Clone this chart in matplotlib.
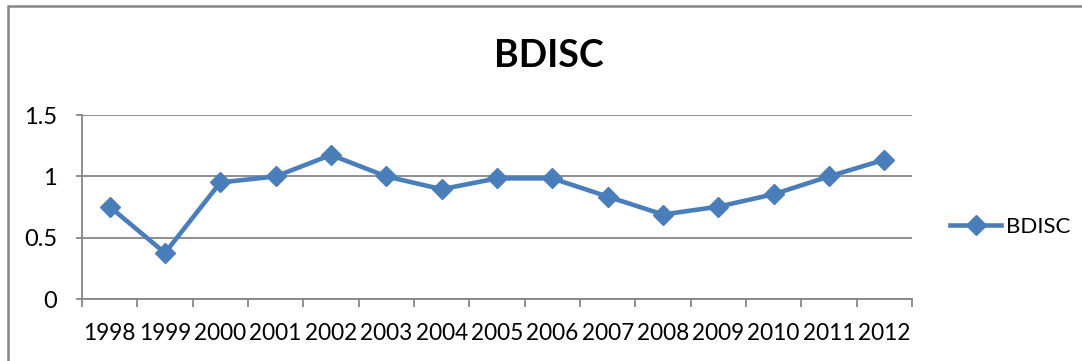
import numpy as np
import matplotlib
matplotlib.use("Agg")
import matplotlib.pyplot as plt
from matplotlib.patches import Rectangle

plt.rcParams['font.family'] = ['Lato', 'DejaVu Sans']

# BDISC by year
years = ['1998', '1999', '2000', '2001', '2002', '2003', '2004', '2005',
         '2006', '2007', '2008', '2009', '2010', '2011', '2012']
bdisc = [0.754, 0.377, 0.951, 1.0, 1.175, 1.0, 0.896, 0.984,
         0.984, 0.836, 0.69, 0.754, 0.855, 1.0, 1.136]
y_ticks = [0, 0.5, 1, 1.5]

blue = '#4a7ebb'
grey = '#868686'

fig = plt.figure(figsize=(10.82, 3.61), dpi=100)
ax = fig.add_axes([82 / 1082, 61.7 / 361, 830 / 1082, 184.3 / 361])

x = np.arange(len(years))
ax.plot(x, bdisc, color=blue, lw=3.3, marker='D', ms=10.5,
        markerfacecolor=blue, markeredgecolor=blue, label='BDISC',
        solid_joinstyle='miter', clip_on=False)

ax.set_xlim(-0.5, len(years) - 0.5)
ax.set_ylim(0, 1.5)
ax.set_yticks(y_ticks)
ax.set_yticklabels(['0', '0.5', '1', '1.5'])
ax.set_xticks(x)
ax.set_xticklabels(years)
ax.set_xticks(np.arange(-0.5, len(years)), minor=True)

ax.grid(axis='y', color=grey, lw=1.3)
ax.set_axisbelow(True)
for s in ['top', 'right']:
    ax.spines[s].set_visible(False)
for s in ['left', 'bottom']:
    ax.spines[s].set_color(grey)
    ax.spines[s].set_linewidth(1.3)

ax.tick_params(axis='x', which='major', length=0, pad=17, labelsize=16.3)
ax.tick_params(axis='x', which='minor', length=6, width=1.3, color=grey)
ax.tick_params(axis='y', length=4, width=1.3, color=grey, pad=14, labelsize=17)

fig.text(549 / 1082, (361 - 56) / 361, 'BDISC', fontsize=27, fontweight='bold',
         ha='center', va='center')

fig.legend(loc='center left', bbox_to_anchor=(950 / 1082, (361 - 227) / 361),
           frameon=False, fontsize=16, handlelength=2.3, handletextpad=0.2,
           borderpad=0, borderaxespad=0)

# chart border
fig.patches.append(Rectangle((8 / 1082, -0.1), 1.2, (361 - 6) / 361 + 0.1,
                             transform=fig.transFigure, fill=False,
                             edgecolor=grey, lw=1.8))

fig.savefig('out.png', dpi=100)
